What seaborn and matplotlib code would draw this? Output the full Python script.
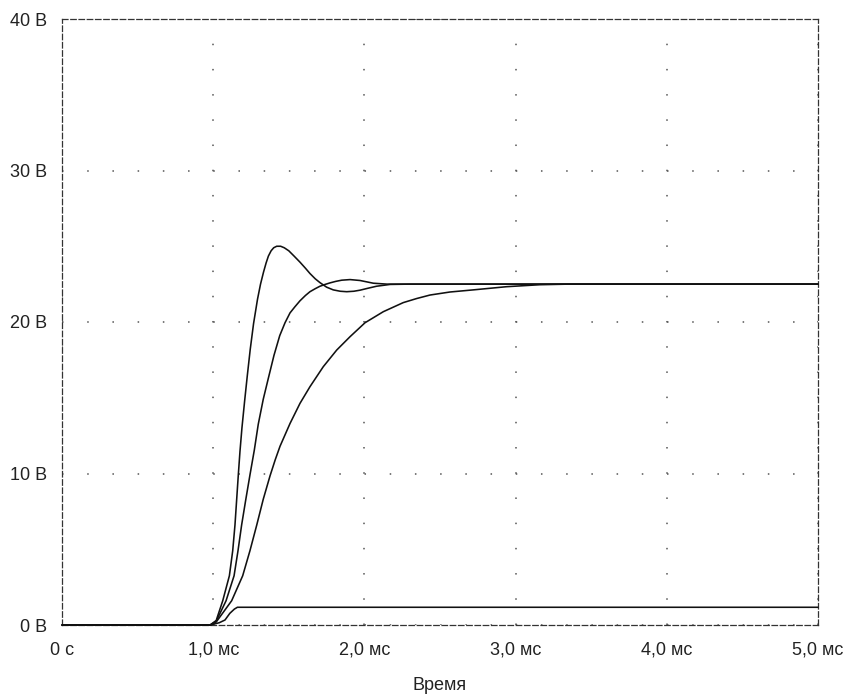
import pandas as pd
import matplotlib
matplotlib.use("Agg")
import matplotlib.pyplot as plt
import seaborn as sns

# Values (time in ms, voltage in V)
t_a = [0.0, 0.98, 1.02, 1.063, 1.107, 1.129, 1.144, 1.155, 1.166, 1.177, 1.19,
       1.208, 1.226, 1.245, 1.267, 1.293, 1.313, 1.333, 1.35, 1.365, 1.383, 1.40,
       1.42, 1.446, 1.47, 1.50, 1.535, 1.574, 1.61, 1.64, 1.675, 1.706, 1.75,
       1.794, 1.84, 1.883, 1.93, 1.971, 2.02, 2.08, 2.17, 2.3, 5.0]
v_a = [0.0, 0.0, 0.3, 1.6, 3.25, 4.9, 6.6, 8.25, 9.9, 11.45, 13.0,
       14.8, 16.5, 18.2, 19.9, 21.5, 22.5, 23.3, 23.9, 24.35, 24.7, 24.9,
       25.0, 25.0, 24.9, 24.7, 24.35, 23.95, 23.55, 23.2, 22.85, 22.6, 22.3,
       22.12, 22.03, 22.0, 22.03, 22.1, 22.22, 22.36, 22.48, 22.5, 22.5]

t_b = [0.0, 0.98, 1.02, 1.085, 1.138, 1.164, 1.188, 1.215, 1.243, 1.272, 1.298,
       1.331, 1.365, 1.402, 1.44, 1.475, 1.508, 1.54, 1.574, 1.61, 1.64, 1.675,
       1.706, 1.74, 1.772, 1.81, 1.85, 1.905, 1.971, 2.02, 2.059, 2.15, 5.0]
v_b = [0.0, 0.0, 0.25, 1.6, 3.25, 4.9, 6.6, 8.25, 9.9, 11.55, 13.25,
       14.9, 16.3, 17.8, 19.1, 19.95, 20.6, 21.0, 21.4, 21.75, 22.0, 22.2,
       22.36, 22.48, 22.58, 22.68, 22.76, 22.8, 22.74, 22.64, 22.56, 22.5, 22.5]

t_c = [0.0, 0.98, 1.02, 1.122, 1.195, 1.243, 1.288, 1.331, 1.376, 1.41, 1.442,
       1.508, 1.574, 1.64, 1.728, 1.817, 1.905, 2.004, 2.125, 2.257, 2.346,
       2.434, 2.566, 2.72, 2.94, 3.16, 3.35, 5.0]
v_c = [0.0, 0.0, 0.2, 1.6, 3.25, 4.9, 6.6, 8.3, 9.85, 10.9, 11.8,
       13.3, 14.63, 15.73, 17.05, 18.15, 19.03, 19.95, 20.68, 21.28, 21.55,
       21.78, 21.98, 22.12, 22.33, 22.46, 22.5, 22.5]

t_d = [0.0, 0.98, 1.04, 1.078, 1.11, 1.14, 1.16, 5.0]
v_d = [0.0, 0.0, 0.15, 0.33, 0.77, 1.05, 1.17, 1.17]

x_ticks = [0, 1, 2, 3, 4, 5]
x_labels = ["0 с", "1,0 мс", "2,0 мс", "3,0 мс", "4,0 мс", "5,0 мс"]
y_ticks = [0, 10, 20, 30, 40]
y_labels = ["0 В", "10 В", "20 В", "30 В", "40 В"]

frames = []
for name, t, v in [("a", t_a, v_a), ("b", t_b, v_b), ("c", t_c, v_c), ("d", t_d, v_d)]:
    frames.append(pd.DataFrame({"t": t, "v": v, "curve": name}))
df = pd.concat(frames, ignore_index=True)

sns.set_style("white")
plt.rcParams["font.family"] = ["Liberation Sans", "DejaVu Sans"]

fig = plt.figure(figsize=(8.44, 6.95), dpi=100)
ax = fig.add_axes([62 / 844, 70 / 695, 756 / 844, 606 / 695])

sns.lineplot(data=df, x="t", y="v", units="curve", estimator=None, sort=False,
             color="#111111", linewidth=1.15, ax=ax, clip_on=False, zorder=3)

ax.set_xlim(0, 5)
ax.set_ylim(0, 40)
ax.set_xticks(x_ticks)
ax.set_xticklabels(x_labels)
ax.set_yticks(y_ticks)
ax.set_yticklabels(y_labels)
ax.tick_params(axis="both", length=0, labelsize=13, colors="#222222")
ax.tick_params(axis="x", pad=12)
ax.tick_params(axis="y", pad=11)
ax.set_xlabel("Время", fontsize=13, color="#222222", labelpad=13)
ax.set_ylabel("")

# dotted grid: one small dot every 1/6 of a division
ax.grid(axis="x", color="#555555", linewidth=1.1, linestyle=(0, (1, 15.5)), dash_capstyle="butt")
ax.grid(axis="y", color="#555555", linewidth=1.1, linestyle=(0, (1, 15.5)), dash_capstyle="butt")

for s in ax.spines.values():
    s.set_visible(True)
    s.set_color("#333333")
    s.set_linewidth(0.9)
    s.set_linestyle((0, (4.4, 2.2)))

fig.savefig("out.png", dpi=100)
